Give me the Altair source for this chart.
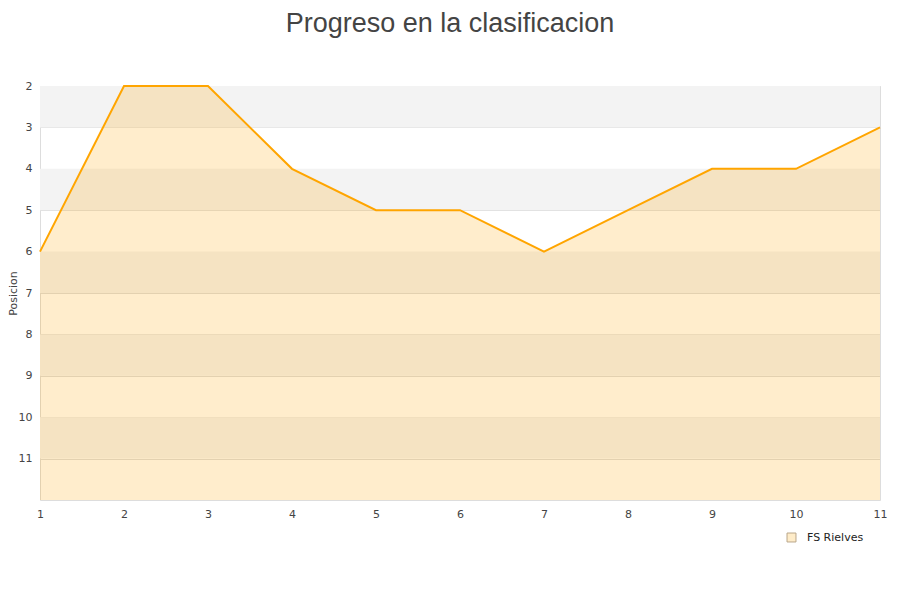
import altair as alt
import pandas as pd

jornadas = [1, 2, 3, 4, 5, 6, 7, 8, 9, 10, 11]
posicion = [6, 2, 2, 4, 5, 5, 6, 5, 4, 4, 3]
serie = "FS Rielves"
band_start = [2, 4, 6, 8, 10]
band_end = [3, 5, 7, 9, 11]
y_ticks = [2, 3, 4, 5, 6, 7, 8, 9, 10, 11]

df = pd.DataFrame({"jornada": jornadas, "posicion": posicion, "serie": [serie] * len(jornadas)})
bands = pd.DataFrame({"y0": band_start, "y1": band_end})

xscale = alt.Scale(domain=[1, 11], nice=False, zero=False)
yscale = alt.Scale(domain=[2, 12], reverse=True, nice=False, zero=False)

band_layer = alt.Chart(bands).mark_rect(color="#f3f3f3").encode(
    y=alt.Y("y0:Q", scale=yscale,
            axis=alt.Axis(title="Posicion", values=y_ticks, grid=True, gridColor="#dddddd",
                          ticks=False, domain=False, labelPadding=8, titlePadding=0,
                          format="d", labelFlush=False)),
    y2="y1:Q",
    x=alt.value(0),
    x2=alt.value(840),
)

area_layer = alt.Chart(df).mark_area(fill="#ffa500", fillOpacity=0.2).encode(
    x=alt.X("jornada:Q", scale=xscale),
    y=alt.Y("posicion:Q", scale=yscale),
    y2=alt.datum(12),
)

line_layer = alt.Chart(df).mark_line(color="#ffa500", strokeWidth=2).encode(
    x=alt.X("jornada:Q", scale=xscale,
            axis=alt.Axis(title=None, values=jornadas, grid=False, ticks=False, domain=False,
                          labelPadding=8, format="d", labelFlush=False)),
    y=alt.Y("posicion:Q", scale=yscale),
)

legend_layer = alt.Chart(df).mark_square(opacity=0).encode(
    x=alt.X("jornada:Q", scale=xscale),
    y=alt.Y("posicion:Q", scale=yscale),
    color=alt.Color("serie:N", scale=alt.Scale(domain=[serie], range=["#feecc9"]),
                    legend=alt.Legend(title=None, orient="none", legendX=746, legendY=446,
                                      symbolType="square", symbolSize=80, symbolOpacity=1,
                                      symbolStrokeColor="#b9a78a", symbolStrokeWidth=1,
                                      labelOffset=10,
                                      labelFontSize=11, labelColor="#222222",
                                      labelFont="DejaVu Sans")),
)

chart = alt.layer(band_layer, area_layer, line_layer, legend_layer).properties(
    width=840,
    height=414,
    autosize=alt.AutoSizeParams(type="none"),
    padding={"left": 32, "top": 78, "right": 12, "bottom": 70},
    title=alt.TitleParams("Progreso en la clasificacion", font="Liberation Sans", fontSize=27,
                          fontWeight="normal", color="#444444", offset=42, dx=-10),
).configure_view(stroke="#dddddd", strokeWidth=1).configure_axis(
    labelFont="DejaVu Sans", labelFontSize=11, labelColor="#444444",
    titleFont="DejaVu Sans", titleFontSize=11, titleColor="#444444", titleFontWeight="normal",
)

chart.save("out.html", embed_options={"renderer": "svg", "actions": False})
